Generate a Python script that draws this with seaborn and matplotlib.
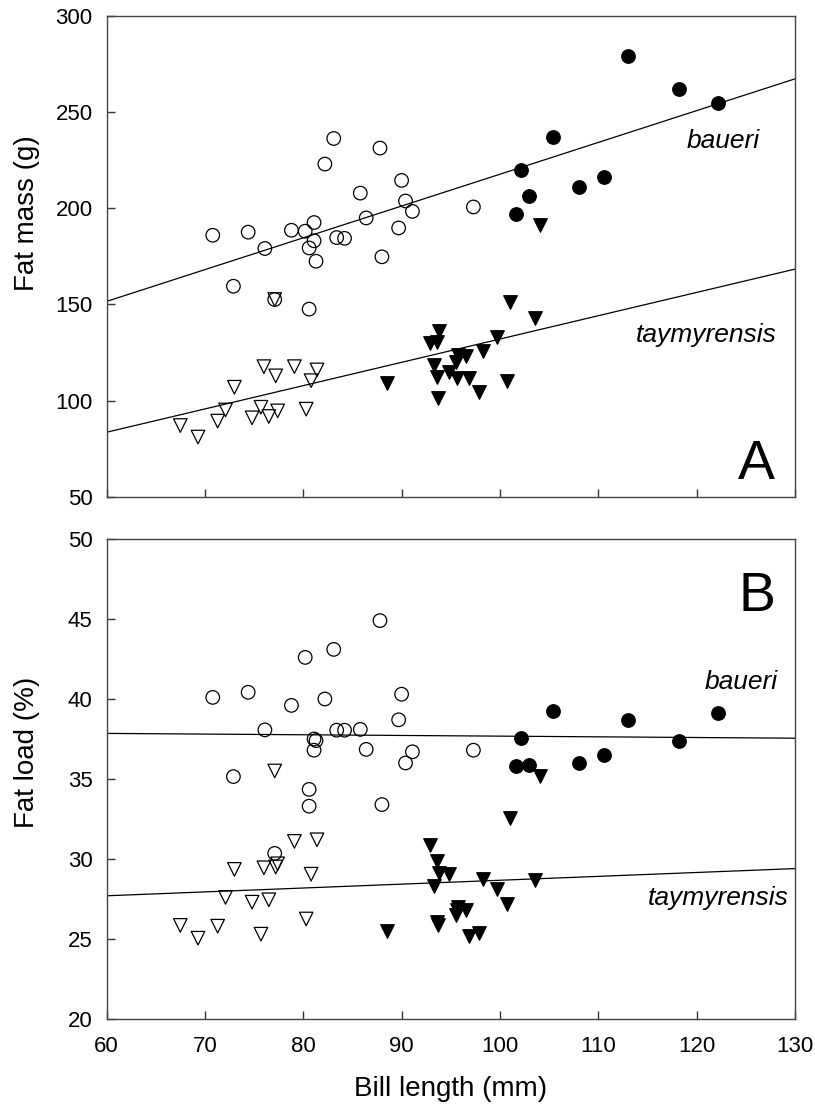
import pandas as pd
import matplotlib
matplotlib.use("Agg")
import matplotlib.pyplot as plt
import seaborn as sns

# --- data ---
# open circles (baueri, group 1)
bill_b_open = [70.8, 72.9, 74.4, 76.1, 77.1, 78.8, 80.2, 80.6, 80.6, 81.1, 81.1, 81.3, 82.2,
               83.1, 83.4, 84.2, 85.8, 86.4, 87.8, 88.0, 89.7, 90.0, 90.4, 91.1, 97.3]
mass_b_open = [185.9, 159.4, 187.5, 179.0, 152.5, 188.5, 188.0, 147.5, 179.3, 192.5, 183.0, 172.4, 222.9,
               236.2, 184.7, 184.3, 207.8, 194.9, 231.2, 174.7, 189.7, 214.4, 203.7, 198.3, 200.6]
load_b_open = [40.1, 35.15, 40.42, 38.07, 30.35, 39.6, 42.6, 34.35, 33.3, 37.5, 36.8, 37.4, 40.0,
               43.1, 38.05, 38.05, 38.1, 36.85, 44.9, 33.4, 38.7, 40.3, 36.0, 36.7, 36.8]

# filled circles (baueri, group 2)
bill_b_fill = [101.6, 102.1, 103.0, 105.4, 108.0, 110.6, 113.0, 118.2, 122.2]
mass_b_fill = [197.2, 219.6, 206.1, 237.2, 211.0, 216.3, 278.9, 262.0, 254.4]
load_b_fill = [35.8, 37.55, 35.85, 39.25, 36.0, 36.5, 38.7, 37.4, 39.1]

# open triangles (taymyrensis, group 1)
bill_t_open = [67.5, 69.3, 71.3, 72.1, 73.0, 74.8, 75.7, 76.0, 76.5, 77.1, 77.2, 77.4, 79.1, 80.3, 80.8, 81.4]
mass_t_open = [87.0, 81.0, 89.3, 95.1, 106.9, 91.0, 96.5, 117.6, 91.7, 152.5, 112.8, 94.6, 117.6, 95.5, 110.3, 115.9]
load_t_open = [25.85, 25.05, 25.8, 27.6, 29.35, 27.3, 25.3, 29.45, 27.45, 35.5, 29.5, 29.7, 31.1, 26.25, 29.05, 31.2]

# filled triangles (taymyrensis, group 2)
bill_t_fill = [88.5, 92.9, 93.3, 93.6, 93.6, 93.7, 93.8, 94.8, 95.5, 95.6, 95.7, 96.5, 96.9, 97.9,
               98.3, 99.7, 100.7, 101.0, 103.6, 104.1]
mass_t_fill = [109.1, 130.0, 118.3, 130.4, 112.4, 101.2, 136.3, 115.0, 120.2, 111.9, 123.6, 123.1, 111.6, 104.3,
               125.9, 133.1, 109.9, 151.3, 142.7, 191.1]
load_t_fill = [25.5, 30.85, 28.3, 29.85, 26.05, 25.85, 29.1, 29.05, 26.5, 26.8, 27.0, 26.8, 25.2, 25.4,
               28.75, 28.15, 27.2, 32.55, 28.7, 35.2]

# regression lines (end values at bill 60 and 130)
fit_x = [60, 130]
fit_mass_b = [151.5, 267.2]
fit_mass_t = [83.5, 168.3]
fit_load_b = [37.85, 37.55]
fit_load_t = [27.7, 29.4]

sns.set_theme(style="ticks")
plt.rcParams["font.family"] = ["Liberation Sans", "DejaVu Sans"]
plt.rcParams["text.color"] = "black"
plt.rcParams["axes.labelcolor"] = "black"
plt.rcParams["xtick.labelcolor"] = "black"
plt.rcParams["ytick.labelcolor"] = "black"

fig = plt.figure(figsize=(8.15, 11.07), dpi=100)
ax1 = fig.add_axes([0.1307, 0.5513, 0.8448, 0.4345])
ax2 = fig.add_axes([0.1307, 0.0795, 0.8448, 0.4336])

S = 95
LW = 0.9


def draw_panel(ax, yb_open, yb_fill, yt_open, yt_fill, fit_b, fit_t):
    sns.lineplot(x=fit_x, y=fit_b, color="black", lw=0.9, ax=ax)
    sns.lineplot(x=fit_x, y=fit_t, color="black", lw=0.9, ax=ax)
    sns.scatterplot(x=bill_b_open, y=yb_open, marker="o", s=S, facecolors="none",
                    edgecolor="black", linewidth=LW, ax=ax, zorder=3)
    sns.scatterplot(x=bill_t_open, y=yt_open, marker="v", s=S, facecolors="none",
                    edgecolor="black", linewidth=LW, ax=ax, zorder=3)
    sns.scatterplot(x=bill_b_fill, y=yb_fill, marker="o", s=S, color="black",
                    edgecolor="black", linewidth=LW, ax=ax, zorder=3)
    sns.scatterplot(x=bill_t_fill, y=yt_fill, marker="v", s=S, color="black",
                    edgecolor="black", linewidth=LW, ax=ax, zorder=3)
    ax.set_xlim(60, 130)
    ax.set_xticks(range(60, 131, 10))
    ax.tick_params(direction="in", length=6, width=1, labelsize=16, color="#333333")
    ax.tick_params(axis="y", pad=10)
    ax.tick_params(axis="x", pad=12)
    for sp in ax.spines.values():
        sp.set_color("#444444")
        sp.set_linewidth(1)


draw_panel(ax1, mass_b_open, mass_b_fill, mass_t_open, mass_t_fill, fit_mass_b, fit_mass_t)
ax1.set_ylim(50, 300)
ax1.set_yticks(range(50, 301, 50))
ax1.set_xticklabels([])
ax1.set_ylabel("Fat mass (g)", fontsize=20)
ax1.yaxis.set_label_coords(-0.096, 0.59)
ax1.text(119.0, 231.1, "baueri", fontsize=19, style="italic", ha="left", va="baseline")
ax1.text(113.8, 130.4, "taymyrensis", fontsize=19, style="italic", ha="left", va="baseline")
ax1.text(126.1, 59.2, "A", fontsize=40, ha="center", va="baseline")

draw_panel(ax2, load_b_open, load_b_fill, load_t_open, load_t_fill, fit_load_b, fit_load_t)
ax2.set_ylim(20, 50)
ax2.set_yticks(range(20, 51, 5))
ax2.set_ylabel("Fat load (%)", fontsize=20)
ax2.yaxis.set_label_coords(-0.096, 0.555)
ax2.set_xlabel("Bill length (mm)", fontsize=20, labelpad=14)
ax2.text(120.8, 40.65, "baueri", fontsize=19, style="italic", ha="left", va="baseline")
ax2.text(115.0, 27.14, "taymyrensis", fontsize=19, style="italic", ha="left", va="baseline")
ax2.text(126.1, 45.5, "B", fontsize=40, ha="center", va="baseline")

fig.savefig("out.png", dpi=100)
